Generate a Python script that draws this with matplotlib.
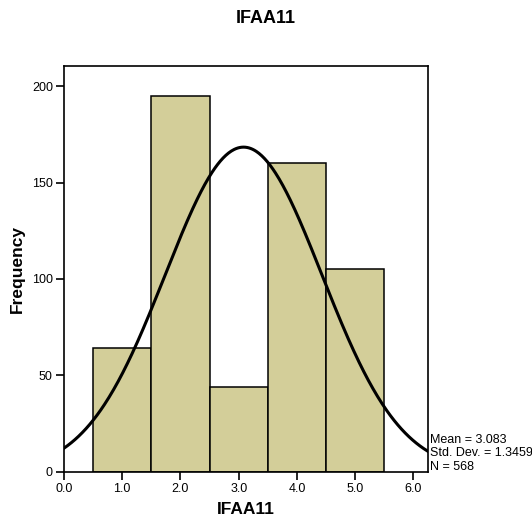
import numpy as np
import matplotlib
matplotlib.use('Agg')
import matplotlib.pyplot as plt

plt.rcParams['font.family'] = ['Liberation Sans', 'DejaVu Sans']

# histogram of IFAA11 (bin centres and counts)
centers = [1.0, 2.0, 3.0, 4.0, 5.0]
counts = [64, 195, 44, 160, 105]
mean = 3.083
sd = 1.3459
n = 568
binw = 1.0

fig = plt.figure(figsize=(5.32, 5.19), dpi=100)
ax = fig.add_axes([0.1203, 0.0911, 0.6842, 0.7823])

ax.bar(centers, counts, width=binw, color='#d3ce99', edgecolor='black', linewidth=1.1, zorder=2)

# normal curve scaled to counts
xs = np.linspace(0, 6.3, 400)
ys = n * binw / (sd * np.sqrt(2 * np.pi)) * np.exp(-0.5 * ((xs - mean) / sd) ** 2)
ax.plot(xs, ys, color='black', lw=2.2, zorder=3)

ax.set_xlim(0, 6.25)
ax.set_ylim(0, 210.6)
ax.set_xticks(np.arange(0, 6.1, 1.0))
ax.set_xticklabels(['%.1f' % v for v in np.arange(0, 6.1, 1.0)])
ax.set_yticks([0, 50, 100, 150, 200])
ax.tick_params(direction='out', length=6, width=1.2, labelsize=9, pad=2)
for s in ax.spines.values():
    s.set_linewidth(1.2)

ax.set_xlabel('IFAA11', fontsize=12.5, fontweight='bold', labelpad=5)
ax.set_ylabel('Frequency', fontsize=12.5, fontweight='bold', labelpad=5)
fig.text(0.5, 0.965, 'IFAA11', ha='center', va='center', fontsize=13, fontweight='bold')

ax.text(1.005, 0.094, 'Mean = %.3f\nStd. Dev. = %.4f\nN = %d' % (mean, sd, n),
        transform=ax.transAxes, ha='left', va='top', fontsize=9, linespacing=1.2)

fig.savefig('out.png', dpi=100)
